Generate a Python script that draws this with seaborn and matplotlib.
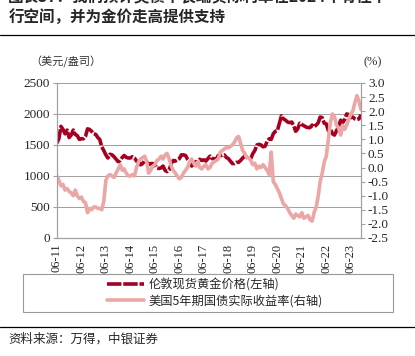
import matplotlib
matplotlib.use("Agg")
import matplotlib.pyplot as plt
import matplotlib.ticker as mticker
import matplotlib.dates as mdates
from matplotlib.patches import Rectangle
import numpy as np
import pandas as pd
import seaborn as sns

# monthly values, Jun 2011 - Nov 2023
gold_price = [
    1530, 1600, 1800, 1750, 1680, 1740, 1620,
    1660, 1740, 1670, 1650, 1590, 1600, 1600, 1640, 1760, 1750, 1720, 1680,
    1670, 1620, 1590, 1470, 1410, 1340, 1290, 1350, 1340, 1310, 1270, 1230,
    1250, 1300, 1330, 1300, 1290, 1290, 1310, 1290, 1240, 1220, 1180, 1200,
    1250, 1230, 1180, 1200, 1200, 1180, 1130, 1120, 1130, 1160, 1090, 1070,
    1100, 1200, 1250, 1240, 1260, 1280, 1340, 1340, 1330, 1270, 1240, 1160,
    1190, 1230, 1230, 1270, 1250, 1260, 1240, 1280, 1320, 1280, 1280, 1260,
    1330, 1330, 1330, 1340, 1300, 1280, 1240, 1200, 1200, 1220, 1220, 1250,
    1290, 1320, 1300, 1290, 1280, 1360, 1410, 1500, 1510, 1500, 1470, 1480,
    1560, 1600, 1590, 1680, 1720, 1730, 1850, 1970, 1920, 1900, 1870, 1860,
    1870, 1810, 1720, 1760, 1850, 1830, 1810, 1790, 1780, 1780, 1820, 1790,
    1820, 1860, 1950, 1940, 1850, 1840, 1730, 1760, 1680, 1660, 1730, 1800,
    1900, 1860, 1910, 2000, 1990, 1940, 1950, 1920, 1910, 1920, 1990,
]
real_yield_5y = [
    -0.30, -0.45, -0.65, -0.60, -0.80, -0.75, -0.85,
    -0.90, -1.00, -0.80, -1.00, -1.10, -1.05, -1.20, -1.25, -1.60, -1.45, -1.50, -1.40,
    -1.40, -1.45, -1.45, -1.50, -1.20, -0.45, -0.30, -0.25, -0.30, -0.35, -0.20, -0.05,
    0.10, -0.10, -0.05, -0.20, -0.30, -0.30, -0.25, -0.30, 0.00, 0.20, 0.30, 0.35,
    0.40, 0.20, -0.20, -0.10, 0.05, 0.10, 0.25, 0.30, 0.40, 0.30, 0.45, 0.50,
    0.30, 0.05, -0.10, -0.20, -0.30, -0.40, -0.35, -0.20, -0.10, 0.00, 0.20, 0.30,
    0.15, 0.05, 0.20, 0.00, -0.05, 0.05, 0.10, -0.05, 0.00, 0.15, 0.20, 0.25,
    0.30, 0.55, 0.60, 0.65, 0.70, 0.70, 0.75, 0.80, 0.90, 1.05, 1.10, 0.85,
    0.60, 0.50, 0.35, 0.35, 0.25, 0.10, 0.15, -0.05, 0.05, 0.00, 0.10, 0.00,
    -0.10, -0.25, 0.55, -0.50, -0.60, -0.75, -0.90, -1.10, -1.30, -1.35, -1.45, -1.60,
    -1.70, -1.80, -1.65, -1.70, -1.75, -1.60, -1.80, -1.75, -1.70, -1.85, -1.90, -1.60,
    -1.40, -1.00, -0.50, -0.20, 0.20, 0.40, 1.00, 1.60, 1.90, 1.80, 1.50, 1.40,
    1.15, 1.50, 1.35, 1.50, 1.70, 1.90, 2.00, 2.30, 2.55, 2.35, 2.05,
]
dates = pd.date_range("2011-06-01", periods=len(gold_price), freq="MS")
year_ticks = pd.date_range("2011-06-01", "2023-06-01", freq="12MS")

title_1 = "图表37：我们预计美债中长端实际利率在2024年有往下"
title_2 = "行空间，并为金价走高提供支持"
left_unit = "（美元/盎司）"
right_unit = "(%)"
gold_label = "伦敦现货黄金价格(左轴)"
yield_label = "美国5年期国债实际收益率(右轴)"
source = "资料来源：万得，中银证券"

GOLD = "#A50021"
PINK = "#EBA6A6"
GRID = "#A0A0A0"

sns.set_style("white")
plt.rcParams["font.family"] = ["Liberation Serif", "Noto Sans CJK SC", "DejaVu Sans"]
cjk = ["Noto Sans CJK SC", "DejaVu Sans"]

df = pd.DataFrame({"date": dates, "gold": gold_price, "tips": real_yield_5y})

fig = plt.figure(figsize=(4.15, 3.56), dpi=100)
ax = fig.add_axes([0.137, 0.3315, 0.733, 0.4355])
ax2 = ax.twinx()

sns.lineplot(data=df, x="date", y="gold", ax=ax, color=GOLD, linewidth=2.6,
             label=gold_label, legend=False)
ax.lines[0].set_dashes([4, 0.5])
sns.lineplot(data=df, x="date", y="tips", ax=ax2, color=PINK, linewidth=2.6,
             label=yield_label, legend=False)

ax.set_ylim(0, 2500)
ax.set_yticks(np.arange(0, 2501, 500))
ax2.set_ylim(-2.5, 3.0)
ax2.set_yticks(np.arange(-2.5, 3.01, 0.5))
ax2.yaxis.set_major_formatter(mticker.FormatStrFormatter("%.1f"))
ax.set_xlim(dates[0], dates[-1])
ax.set_xticks(year_ticks)
ax.xaxis.set_major_formatter(mdates.DateFormatter("%m-%y"))
ax.set_xlabel("")
ax.set_ylabel("")
ax2.set_ylabel("")

ax.yaxis.grid(True, color=GRID, linewidth=0.7)
ax.set_axisbelow(True)
for a in (ax, ax2):
    for s in a.spines.values():
        s.set_color(GRID)
        s.set_linewidth(0.8)
    a.spines["top"].set_visible(False)
ax.tick_params(axis="x", labelrotation=90, labelsize=9, length=3, color=GRID, pad=1)
ax.tick_params(axis="y", labelsize=9.5, length=3, color=GRID, pad=2)
ax2.tick_params(axis="y", labelsize=9.5, length=3, color=GRID, pad=2)

# titles and notes (first title line is cut by the top edge, as in the source)
fig.text(0.02, 1 + 3 / 356, title_1, family=cjk, fontsize=11.2, fontweight="bold",
         va="center", ha="left")
fig.text(0.02, 1 - 18 / 356, title_2, family=cjk, fontsize=11.2, fontweight="bold",
         va="center", ha="left")
fig.add_artist(plt.Line2D([0.0, 1.0], [1 - 35 / 356] * 2, color="black", linewidth=0.9))
fig.text(30 / 415, 1 - 62 / 356, left_unit, family=cjk, fontsize=8, color="#333333",
         va="center", ha="left")
fig.text(363 / 415, 1 - 62 / 356, right_unit, fontsize=9, color="#333333",
         va="center", ha="left")

# legend box
fig.add_artist(Rectangle((23 / 415, 1 - 312 / 356), 370 / 415, 38 / 356,
                         transform=fig.transFigure, fill=False,
                         edgecolor="#999999", linewidth=0.8))
handles = ax.get_lines()[:1] + ax2.get_lines()[:1]
leg = fig.legend(handles, [gold_label, yield_label], loc="center left",
                 bbox_to_anchor=(96 / 415, 1 - 293 / 356), frameon=False,
                 prop={"family": cjk, "size": 8.8}, handlelength=3.0,
                 handletextpad=0.4, labelspacing=0.25)

fig.add_artist(plt.Line2D([0.0, 1.0], [1 - 327 / 356] * 2, color="black", linewidth=0.9))
fig.text(0.02, 1 - 339 / 356, source, family=cjk, fontsize=9, style="italic",
         va="center", ha="left")

fig.savefig("out.png", dpi=100)
